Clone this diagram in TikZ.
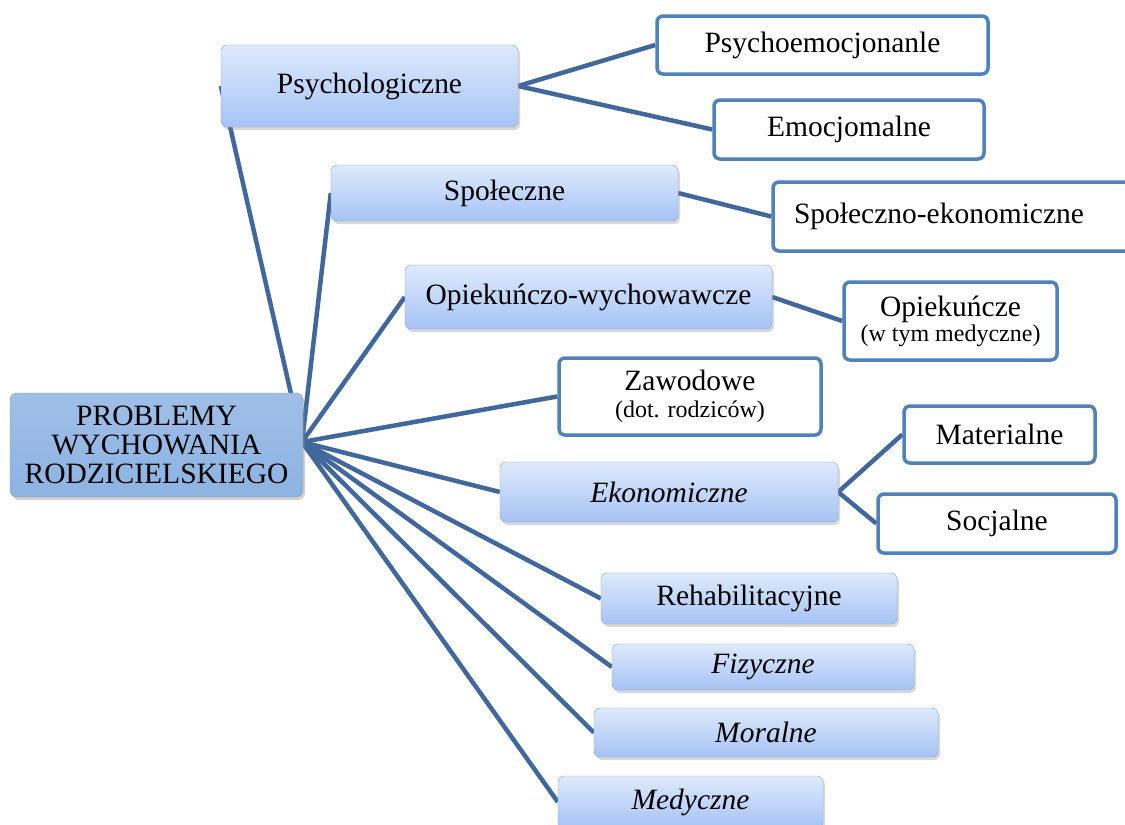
\documentclass[tikz,border=0pt]{standalone}
\usepackage{fontspec}
\setmainfont{Liberation Serif}
\usetikzlibrary{
		backgrounds,
		shadows
	}
\definecolor{linkblue}{HTML}{41689C}
\definecolor{boxblue}{HTML}{4F81BD}
\definecolor{topblue}{HTML}{DEEAFC}
\definecolor{botblue}{HTML}{A6C3F5}
\definecolor{rootblue}{HTML}{8DB3E2}
\tikzset{
		conn/.style={linkblue, line width=4.5pt},
		gradbox/.style={draw=boxblue!70, thin, rounded corners=6pt, top color=topblue, bottom color=botblue,
			drop shadow={opacity=0.3, shadow xshift=2pt, shadow yshift=-3pt}, inner sep=0pt, align=center},
		whitebox/.style={draw=boxblue, line width=3.5pt, rounded corners=6pt, fill=white, inner sep=0pt, align=center},
		rootbox/.style={draw=gray!80, thin, rounded corners=7pt, top color=rootblue!85, bottom color=rootblue,
			drop shadow={opacity=0.35, shadow xshift=2pt, shadow yshift=-3pt}, inner sep=0pt, align=center}
	}
\newcommand{\bigtxt}{\fontsize{29.5}{29}\selectfont}
\newcommand{\smalltxt}{\fontsize{24}{25}\selectfont}

\begin{document}
\begin{tikzpicture}[x=1pt, y=-1pt, font=\bigtxt]
            \useasboundingbox (0,0) rectangle (1125,825);
            \clip (0,0) rectangle (1125,825);

            % root and hub
            \node[rootbox, minimum width=293pt, minimum height=104pt] (root) at (156.5,445) {PROBLEMY\\WYCHOWANIA\\RODZICIELSKIEGO};
            \coordinate (hub) at (302,442);

            % first level
            \node[gradbox, minimum width=297pt, minimum height=82pt] (psych) at (369.5,86) {Psychologiczne};
            \node[gradbox, minimum width=347pt, minimum height=56pt] (spol) at (504.5,193) {Społeczne};
            \node[gradbox, minimum width=367pt, minimum height=64pt] (opiek) at (588.5,297) {Opiekuńczo-wychowawcze};
            \node[whitebox, minimum width=262pt, minimum height=77pt] (zawod) at (690,396.5) {Zawodowe\\[-2pt]{\smalltxt (dot. rodziców)}};
            \node[gradbox, minimum width=338pt, minimum height=60pt] (ekon) at (669,492) {\textit{Ekonomiczne}};
            \node[gradbox, minimum width=296pt, minimum height=51pt] (rehab) at (749,598.5) {Rehabilitacyjne};
            \node[gradbox, minimum width=302pt, minimum height=46pt] (fiz) at (763,667) {\textit{Fizyczne}};
            \node[gradbox, minimum width=344pt, minimum height=49pt] (moral) at (766,732.5) {\textit{Moralne}};
            \node[gradbox, minimum width=265pt, minimum height=52pt] (medyc) at (690.5,802) {\textit{Medyczne}};

            % second level
            \node[whitebox, minimum width=331pt, minimum height=58pt] (psyemo) at (822.5,45) {Psychoemocjonanle};
            \node[whitebox, minimum width=270pt, minimum height=59pt] (emoc) at (849,129.5) {Emocjomalne};
            \node[whitebox, minimum width=368pt, minimum height=69pt] (spolek) at (957,216.5) {\hspace*{-36pt}Społeczno-ekonomiczne};
            \node[whitebox, minimum width=213pt, minimum height=78pt] (opiekc) at (950.5,321) {Opiekuńcze\\[-4pt]{\smalltxt (w tym medyczne)}};
            \node[whitebox, minimum width=191pt, minimum height=57pt] (mater) at (999.5,434.5) {Materialne};
            \node[whitebox, minimum width=238pt, minimum height=59pt] (socj) at (997,523.5) {Socjalne};

            \begin{scope}[on background layer]
                \fill[white] (0,0) rectangle (1125,825);
                \foreach \n in {psych,spol,opiek,zawod,ekon,rehab,fiz,moral,medyc}
                \draw[conn] (hub) -- (\n.west);
                \draw[conn] (psych.east) -- (psyemo.west);
                \draw[conn] (psych.east) -- (emoc.west);
                \draw[conn] (spol.east) -- (spolek.west);
                \draw[conn] (opiek.east) -- (opiekc.west);
                \draw[conn] (ekon.east) -- (mater.west);
                \draw[conn] (ekon.east) -- (socj.west);
            \end{scope}
        \end{tikzpicture}
\end{document}
